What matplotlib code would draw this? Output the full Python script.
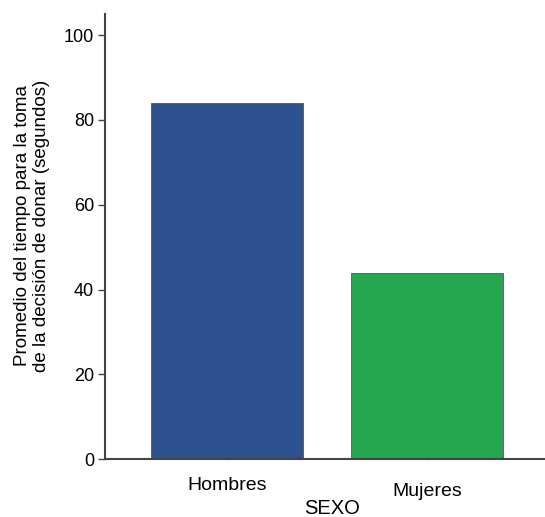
import matplotlib
matplotlib.use('Agg')
import matplotlib.pyplot as plt

plt.rcParams['font.family'] = ['Liberation Sans', 'DejaVu Sans']

categorias = ['Hombres', 'Mujeres']
promedios = [84, 44]
colores = ['#2E528F', '#24A74F']
# vertical offset of each category label below the axis (points); Mujeres sits lower
desfase = [18.7, 23]

fig = plt.figure(figsize=(5.45, 5.17), dpi=100)
ax = fig.add_axes([0.193, 0.112, 0.807, 0.861])

pos = list(range(len(categorias)))
ax.bar(pos, promedios, width=0.76, color=colores, edgecolor='#555555', linewidth=0.6)

ax.set_xlim(-0.61, 1.59)
ax.set_ylim(0, 105)
ax.set_yticks([0, 20, 40, 60, 80, 100])
ax.set_xticks(pos, labels=['' for _ in categorias])
for p, cat, dy in zip(pos, categorias, desfase):
    ax.annotate(cat, xy=(p, 0), xycoords=('data', 'axes fraction'),
                xytext=(0, -dy), textcoords='offset points',
                ha='center', va='center', fontsize=14)
ax.tick_params(axis='y', labelsize=13, length=5, width=1, color='#444444', pad=3)
ax.tick_params(axis='x', length=2, width=0.6, color='#e6e6e6')

ax.spines['top'].set_visible(False)
ax.spines['right'].set_visible(False)
for s in ['left', 'bottom']:
    ax.spines[s].set_color('#444444')
    ax.spines[s].set_linewidth(1.5)

ax.set_ylabel('Promedio del tiempo para la toma\nde la decisión de donar (segundos)',
              fontsize=13.5, linespacing=1.2, va='center')
ax.yaxis.set_label_coords(-0.166, 0.524)
ax.set_xlabel('SEXO', fontsize=14.5, va='center')
ax.xaxis.set_label_coords(0.516, -0.110)

fig.savefig('out.png', dpi=100)
